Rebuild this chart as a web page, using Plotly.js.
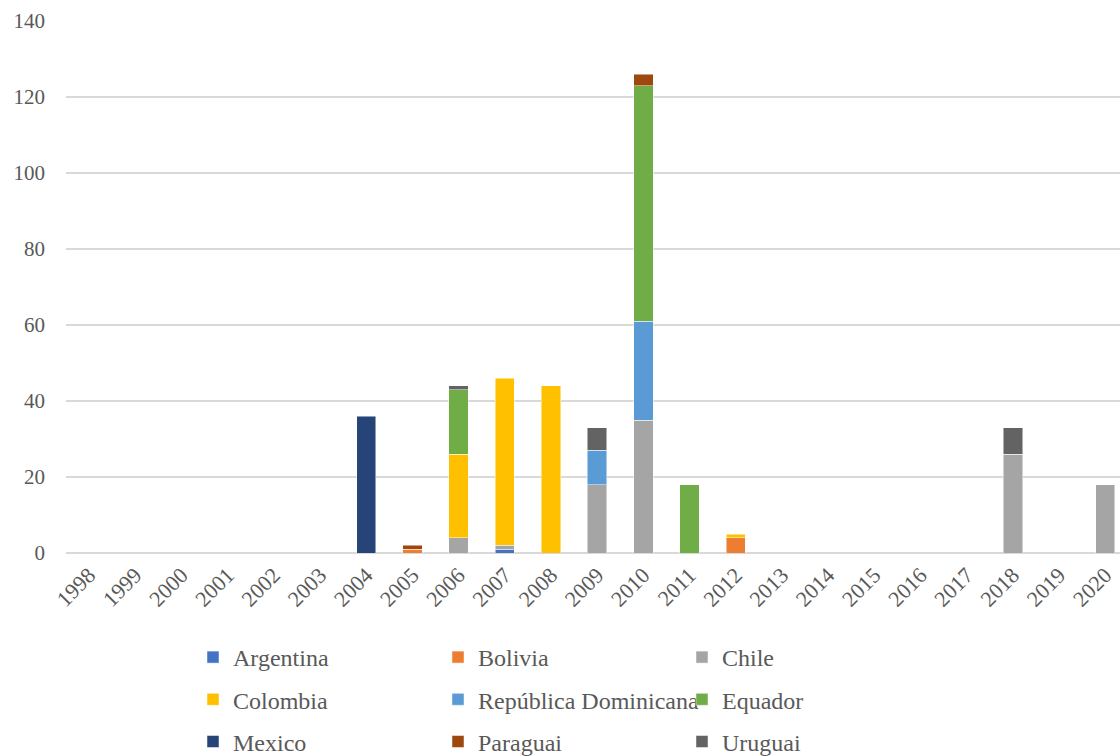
<!DOCTYPE html>
<html>
<head>
<meta charset="utf-8">
<script src="https://cdn.plot.ly/plotly-3.0.1.min.js"></script>
<style>
  html, body { margin: 0; padding: 0; background: #ffffff; }
  #chart { width: 1120px; height: 756px; }
</style>
</head>
<body>
<div id="chart"></div>
<script>
// Years on the category axis
const years = ['1998','1999','2000','2001','2002','2003','2004','2005','2006','2007','2008',
               '2009','2010','2011','2012','2013','2014','2015','2016','2017','2018','2019','2020'];

// Counts per country and year (null = none that year)
const argentina = [null,null,null,null,null,null,null,null,null,1,null,null,null,null,null,null,null,null,null,null,null,null,null];
const bolivia   = [null,null,null,null,null,null,null,1,null,null,null,null,null,null,4,null,null,null,null,null,null,null,null];
const chile     = [null,null,null,null,null,null,null,null,4,1,null,18,35,null,null,null,null,null,null,null,26,null,18];
const colombia  = [null,null,null,null,null,null,null,null,22,44,44,null,null,null,1,null,null,null,null,null,null,null,null];
const repDom    = [null,null,null,null,null,null,null,null,null,null,null,9,26,null,null,null,null,null,null,null,null,null,null];
const equador   = [null,null,null,null,null,null,null,null,17,null,null,null,62,18,null,null,null,null,null,null,null,null,null];
const mexico    = [null,null,null,null,null,null,36,null,null,null,null,null,null,null,null,null,null,null,null,null,null,null,null];
const paraguai  = [null,null,null,null,null,null,null,1,null,null,null,null,3,null,null,null,null,null,null,null,null,null,null];
const uruguai   = [null,null,null,null,null,null,null,null,1,null,null,6,null,null,null,null,null,null,null,null,7,null,null];

const seriesNames = ['Argentina','Bolivia','Chile','Colombia','República Dominicana','Equador','Mexico','Paraguai','Uruguai'];
const seriesData  = [argentina, bolivia, chile, colombia, repDom, equador, mexico, paraguai, uruguai];
const seriesColors = ['#4472C4','#ED7D31','#A5A5A5','#FFC000','#5B9BD5','#70AD47','#264478','#9E480E','#636363'];
// Legend column for each series (three columns, read across rows)
const legendIds = ['legend','legend2','legend3','legend','legend2','legend3','legend','legend2','legend3'];

const textColor = '#595959';
const fontFamily = '"Liberation Serif", "Times New Roman", serif';

const traces = seriesNames.map((name, i) => ({
  type: 'bar',
  name: name,
  x: years,
  y: seriesData[i],
  legend: legendIds[i],
  legendgroup: 'g' + i,
  marker: { color: seriesColors[i], line: { color: 'rgba(255,255,255,0.6)', width: 0.8 } },
  hoverinfo: 'x+y+name'
}));

const W = 1120, H = 756;
function legendAt(px, py) {
  return {
    xref: 'container', yref: 'container',
    x: px / W, y: 1 - py / H,
    xanchor: 'left', yanchor: 'top',
    orientation: 'v',
    traceorder: 'grouped',
    tracegroupgap: 8,
    bgcolor: 'rgba(0,0,0,0)',
    borderwidth: 0,
    font: { family: fontFamily, size: 24, color: textColor }
  };
}

const layout = {
  width: W,
  height: H,
  paper_bgcolor: '#ffffff',
  plot_bgcolor: '#ffffff',
  barmode: 'stack',
  bargap: 0.58,
  margin: { l: 66, r: 0, t: 21, b: 203, pad: 0, autoexpand: false },
  font: { family: fontFamily, size: 21, color: textColor },
  xaxis: {
    type: 'category',
    range: [-0.5, 22.32],
    showgrid: false,
    zeroline: false,
    showline: false,
    ticks: '',
    tickangle: -45,
    ticklabelstandoff: 4,
    automargin: false,
    tickfont: { family: fontFamily, size: 22, color: textColor },
    fixedrange: true
  },
  yaxis: {
    range: [0, 140],
    dtick: 20,
    showgrid: true,
    gridcolor: '#D9D9D9',
    gridwidth: 1.5,
    zeroline: true,
    zerolinecolor: '#D9D9D9',
    zerolinewidth: 1.5,
    showline: false,
    ticks: '',
    ticklabelstandoff: 20,
    automargin: false,
    tickfont: { family: fontFamily, size: 21, color: textColor },
    fixedrange: true
  },
  legend:  legendAt(193, 635),
  legend2: legendAt(438, 635),
  legend3: legendAt(682, 635),
  showlegend: true
};

Plotly.newPlot('chart', traces, layout, { displayModeBar: false, responsive: false });
</script>
</body>
</html>
